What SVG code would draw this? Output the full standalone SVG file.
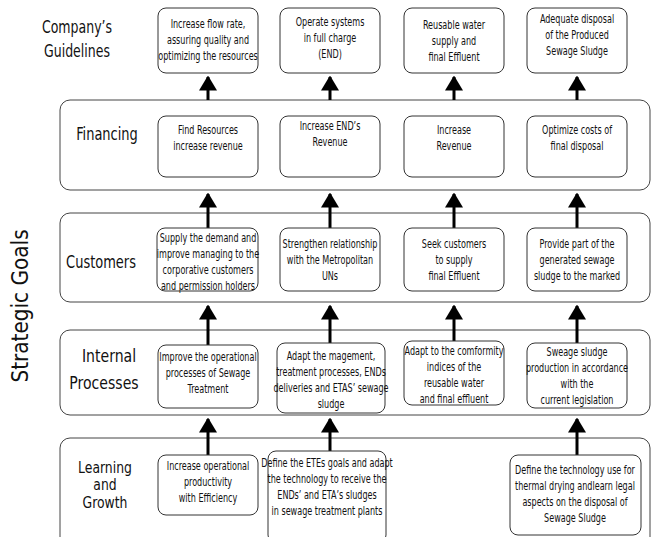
<svg xmlns="http://www.w3.org/2000/svg" width="657" height="537" viewBox="0 0 657 537">
<style>
.band{fill:#fff;stroke:#444;stroke-width:1}
.box{fill:#fff;stroke:#333;stroke-width:1}
.t{font-family:"DejaVu Sans Condensed","Liberation Sans Narrow","Liberation Sans",sans-serif;font-size:11.5px;fill:#111;text-anchor:middle}
.lab{font-family:"DejaVu Sans Condensed","Liberation Sans Narrow","Liberation Sans",sans-serif;font-size:17px;fill:#111;text-anchor:middle}
.arr{stroke:#000;stroke-width:3;fill:none}
</style>
<defs>
<marker id="ah" markerWidth="5" markerHeight="6" refX="4.5" refY="3" orient="auto" markerUnits="strokeWidth">
<path d="M0,0 L5,3 L0,6 Z" fill="#000"/>
</marker>
</defs>
<rect width="657" height="537" fill="#fff"/>

<g id="bands">
<rect id="band-financing" class="band" x="60" y="100" width="590" height="90" rx="10"/>
<rect id="band-customers" class="band" x="60" y="213" width="590" height="89" rx="10"/>
<rect id="band-internal" class="band" x="60" y="330" width="590" height="85" rx="10"/>
<rect id="band-learning" class="band" x="60" y="438" width="590" height="110" rx="10"/>
</g>

<g id="labels">
<g transform="translate(28,306) rotate(-90) scale(0.97 1)"><text class="lab" style="font-size:23px">Strategic Goals</text></g>
<g transform="translate(77 0) scale(0.82 1)"><text class="lab" y="33">Company’s</text><text class="lab" y="57">Guidelines</text></g>
<g transform="translate(107 0) scale(0.85 1)"><text class="lab" y="140">Financing</text></g>
<g transform="translate(101 0) scale(0.85 1)"><text class="lab" y="268">Customers</text></g>
<g transform="translate(109 0) scale(0.92 1)"><text class="lab" y="362">Internal</text></g>
<g transform="translate(104 0) scale(0.92 1)"><text class="lab" y="389">Processes</text></g>
<g transform="translate(105 0) scale(0.92 1)"><text class="lab" y="473" style="font-size:15px">Learning</text><text class="lab" y="490.5" style="font-size:15px">and</text><text class="lab" y="508" style="font-size:15px">Growth</text></g>
</g>

<g id="connectors">
<line class="arr" x1="208" y1="100" x2="208" y2="77" marker-end="url(#ah)"/>
<line class="arr" x1="330" y1="100" x2="330" y2="77" marker-end="url(#ah)"/>
<line class="arr" x1="454" y1="100" x2="454" y2="77" marker-end="url(#ah)"/>
<line class="arr" x1="577" y1="100" x2="577" y2="77" marker-end="url(#ah)"/>
<line class="arr" x1="208" y1="228" x2="208" y2="194" marker-end="url(#ah)"/>
<line class="arr" x1="330" y1="228" x2="330" y2="194" marker-end="url(#ah)"/>
<line class="arr" x1="454" y1="228" x2="454" y2="194" marker-end="url(#ah)"/>
<line class="arr" x1="577" y1="228" x2="577" y2="194" marker-end="url(#ah)"/>
<line class="arr" x1="208" y1="345" x2="208" y2="306" marker-end="url(#ah)"/>
<line class="arr" x1="330" y1="343" x2="330" y2="306" marker-end="url(#ah)"/>
<line class="arr" x1="454" y1="341" x2="454" y2="306" marker-end="url(#ah)"/>
<line class="arr" x1="577" y1="343" x2="577" y2="306" marker-end="url(#ah)"/>
<line class="arr" x1="208" y1="455" x2="208" y2="419" marker-end="url(#ah)"/>
<line class="arr" x1="330" y1="451" x2="330" y2="419" marker-end="url(#ah)"/>
<line class="arr" x1="577" y1="455" x2="577" y2="419" marker-end="url(#ah)"/>
</g>

<g id="g1"><rect class="box" x="158" y="8" width="100" height="65" rx="8"/>
<g transform="translate(208 0) scale(0.78 1)"><text class="t" y="28">Increase flow rate,</text><text class="t" y="44">assuring quality and</text><text class="t" y="60">optimizing the resources</text></g></g>
<g id="g2"><rect class="box" x="280" y="8" width="100" height="65" rx="8"/>
<g transform="translate(330 0) scale(0.78 1)"><text class="t" y="26">Operate systems</text><text class="t" y="42">in full charge</text><text class="t" y="58">(END)</text></g></g>
<g id="g3"><rect class="box" x="404" y="8" width="100" height="65" rx="8"/>
<g transform="translate(454 0) scale(0.78 1)"><text class="t" y="29">Reusable water</text><text class="t" y="45">supply and</text><text class="t" y="61">final Effluent</text></g></g>
<g id="g4"><rect class="box" x="527" y="8" width="100" height="65" rx="8"/>
<g transform="translate(577 0) scale(0.78 1)"><text class="t" y="23">Adequate disposal</text><text class="t" y="39">of the Produced</text><text class="t" y="55">Sewage Sludge</text></g></g>

<g id="f1"><rect class="box" x="158" y="116" width="100" height="61" rx="8"/>
<g transform="translate(208 0) scale(0.78 1)"><text class="t" y="134">Find Resources</text><text class="t" y="150">increase revenue</text></g></g>
<g id="f2"><rect class="box" x="280" y="116" width="100" height="61" rx="8"/>
<g transform="translate(330 0) scale(0.78 1)"><text class="t" y="130">Increase END’s</text><text class="t" y="146">Revenue</text></g></g>
<g id="f3"><rect class="box" x="404" y="116" width="100" height="61" rx="8"/>
<g transform="translate(454 0) scale(0.78 1)"><text class="t" y="134">Increase</text><text class="t" y="150">Revenue</text></g></g>
<g id="f4"><rect class="box" x="527" y="116" width="100" height="61" rx="8"/>
<g transform="translate(577 0) scale(0.78 1)"><text class="t" y="134">Optimize costs of</text><text class="t" y="150">final disposal</text></g></g>

<g id="c1"><rect class="box" x="157" y="228" width="101" height="63" rx="8"/>
<g transform="translate(208 0) scale(0.78 1)"><text class="t" y="242">Supply the demand and</text><text class="t" y="258">improve managing to the</text><text class="t" y="274">corporative customers</text><text class="t" y="290">and permission holders</text></g></g>
<g id="c2"><rect class="box" x="280" y="228" width="100" height="63" rx="8"/>
<g transform="translate(330 0) scale(0.78 1)"><text class="t" y="248">Strengthen relationship</text><text class="t" y="264">with the Metropolitan</text><text class="t" y="280">UNs</text></g></g>
<g id="c3"><rect class="box" x="404" y="228" width="100" height="63" rx="8"/>
<g transform="translate(454 0) scale(0.78 1)"><text class="t" y="248">Seek customers</text><text class="t" y="264">to supply</text><text class="t" y="280">final Effluent</text></g></g>
<g id="c4"><rect class="box" x="527" y="228" width="100" height="63" rx="8"/>
<g transform="translate(577 0) scale(0.78 1)"><text class="t" y="248">Provide part of the</text><text class="t" y="264">generated sewage</text><text class="t" y="280">sludge to the marked</text></g></g>

<g id="i1"><rect class="box" x="158" y="345" width="100" height="63" rx="8"/>
<g transform="translate(208 0) scale(0.78 1)"><text class="t" y="361">Improve the operational</text><text class="t" y="377">processes of Sewage</text><text class="t" y="393">Treatment</text></g></g>
<g id="i2"><rect class="box" x="277" y="343" width="108" height="70" rx="8"/>
<g transform="translate(331 0) scale(0.78 1)"><text class="t" y="360">Adapt the magement,</text><text class="t" y="376">treatment processes, ENDs</text><text class="t" y="392">deliveries and ETAS’ sewage</text><text class="t" y="408">sludge</text></g></g>
<g id="i3"><rect class="box" x="404" y="341" width="100" height="64" rx="8"/>
<g transform="translate(454 0) scale(0.78 1)"><text class="t" y="355">Adapt to the comformity</text><text class="t" y="371">indices of the</text><text class="t" y="387">reusable water</text><text class="t" y="403">and final effluent</text></g></g>
<g id="i4"><rect class="box" x="527" y="343" width="100" height="65" rx="8"/>
<g transform="translate(577 0) scale(0.78 1)"><text class="t" y="356">Sweage sludge</text><text class="t" y="372">production in accordance</text><text class="t" y="388">with the</text><text class="t" y="404">current legislation</text></g></g>

<g id="l1"><rect class="box" x="158" y="455" width="100" height="60" rx="8"/>
<g transform="translate(208 0) scale(0.78 1)"><text class="t" y="470">Increase operational</text><text class="t" y="486">productivity</text><text class="t" y="502">with Efficiency</text></g></g>
<g id="l2"><rect class="box" x="268" y="451" width="118" height="92" rx="8"/>
<g transform="translate(327 0) scale(0.78 1)"><text class="t" y="467">Define the ETEs goals and adapt</text><text class="t" y="483">the technology to receive the</text><text class="t" y="499">ENDs’ and ETA’s sludges</text><text class="t" y="515">in sewage treatment plants</text></g></g>
<g id="l4"><rect class="box" x="510" y="455" width="131" height="80" rx="8"/>
<g transform="translate(575 0) scale(0.78 1)"><text class="t" y="474">Define the technology use for</text><text class="t" y="490">thermal drying andlearn legal</text><text class="t" y="506">aspects on the disposal of</text><text class="t" y="522">Sewage Sludge</text></g></g>
</svg>
